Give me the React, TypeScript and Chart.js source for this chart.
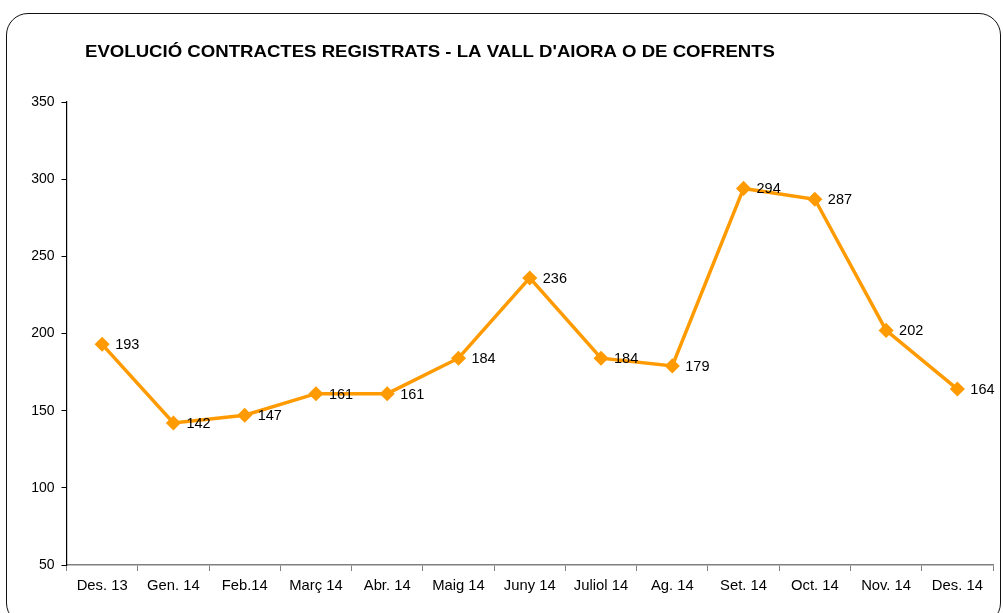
import React, { useEffect, useRef } from "react";
import { Chart, registerables } from "chart.js";

Chart.register(...registerables);

const TITLE = "EVOLUCIÓ CONTRACTES REGISTRATS - LA VALL D'AIORA O DE COFRENTS";
const categories = [
  "Des. 13", "Gen. 14", "Feb.14", "Març 14", "Abr. 14", "Maig 14", "Juny 14",
  "Juliol 14", "Ag. 14", "Set. 14", "Oct. 14", "Nov. 14", "Des. 14",
];
const contractes = [193, 142, 147, 161, 161, 184, 236, 184, 179, 294, 287, 202, 164];
const yMin = 50;
const yMax = 350;
const yStep = 50;

const FONT = "'Liberation Sans', Arial, sans-serif";
const ORANGE = "#FF9A00";

const titlePlugin = {
  id: "customTitle",
  afterDraw(chart: any) {
    const ctx = chart.ctx;
    ctx.save();
    ctx.font = `bold 16.5px ${FONT}`;
    ctx.fillStyle = "#000";
    ctx.textAlign = "left";
    ctx.textBaseline = "middle";
    const w = ctx.measureText(TITLE).width;
    const target = 690;
    ctx.translate(85, 52);
    ctx.scale(target / w, 1);
    ctx.fillText(TITLE, 0, 0);
    ctx.restore();
  },
};

const labelPlugin = {
  id: "pointLabels",
  afterDatasetsDraw(chart: any) {
    const ctx = chart.ctx;
    const meta = chart.getDatasetMeta(0);
    const data = chart.data.datasets[0].data;
    ctx.save();
    ctx.font = `14.5px ${FONT}`;
    ctx.fillStyle = "#000";
    ctx.textAlign = "left";
    ctx.textBaseline = "middle";
    meta.data.forEach((pt: any, i: number) => {
      ctx.fillText(String(data[i]), pt.x + 13, pt.y + 1);
    });
    ctx.restore();
  },
};

export default function App() {
  const ref = useRef<HTMLCanvasElement>(null);
  useEffect(() => {
    if (!ref.current) return;
    const chart = new Chart(ref.current, {
      type: "line",
      data: {
        labels: categories,
        datasets: [
          {
            data: contractes,
            borderColor: ORANGE,
            backgroundColor: ORANGE,
            borderWidth: 3.5,
            pointStyle: "rectRot",
            pointRadius: 6.5,
            pointBorderWidth: 1.5,
            pointBorderColor: ORANGE,
            pointBackgroundColor: ORANGE,
            tension: 0,
          },
        ],
      },
      options: {
        responsive: false,
        animation: false,
        layout: { padding: { left: 0, right: 10, top: 102, bottom: 0 } },
        plugins: {
          legend: { display: false },
          title: { display: false },
          tooltip: { enabled: false },
        },
        scales: {
          x: {
            type: "category",
            offset: true,
            grid: {
              offset: true,
              drawOnChartArea: false,
              drawTicks: true,
              tickLength: 6,
              color: "#808080",
            },
            border: { color: "#808080", width: 1.5 },
            ticks: {
              color: "#000",
              font: { family: FONT, size: 14.8 },
              padding: 6,
              maxRotation: 0,
              autoSkip: false,
            },
            afterFit(scale: any) {
              scale.height = 48;
            },
          },
          y: {
            min: yMin,
            max: yMax,
            grid: {
              drawOnChartArea: false,
              drawTicks: true,
              tickLength: 5,
              color: "#000",
            },
            border: { color: "#000", width: 1.2 },
            ticks: {
              stepSize: yStep,
              color: "#000",
              font: { family: FONT, size: 14 },
              padding: 7,
            },
            afterFit(scale: any) {
              scale.width = 66.5;
            },
          },
        },
      },
      plugins: [titlePlugin, labelPlugin],
    });
    return () => chart.destroy();
  }, []);

  return (
    <div
      style={{
        position: "fixed",
        left: 0,
        top: 0,
        width: 1003,
        height: 613,
        overflow: "hidden",
        background: "#fff",
      }}
    >
      <div
        style={{
          position: "absolute",
          left: 6,
          top: 13,
          width: 995,
          height: 612,
          border: "1.5px solid #111",
          borderRadius: 22,
          boxSizing: "border-box",
        }}
      />
      <canvas
        ref={ref}
        width={1003}
        height={613}
        style={{ position: "absolute", left: 0, top: 0, width: 1003, height: 613 }}
      />
    </div>
  );
}
